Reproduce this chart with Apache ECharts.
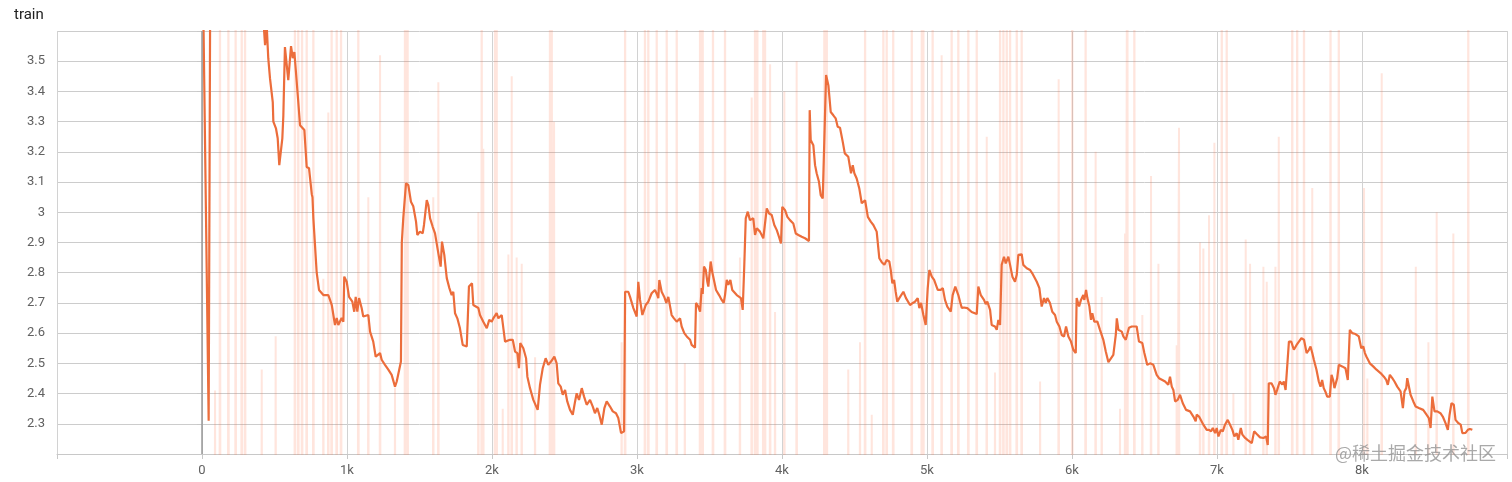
<!DOCTYPE html>
<html>
<head>
<meta charset="utf-8">
<script src="https://cdn.jsdelivr.net/npm/echarts@6/dist/echarts.min.js"></script>
<style>
html,body{margin:0;padding:0;background:#fff;}
#chart{width:1512px;height:482px;}
</style>
</head>
<body>
<div id="chart"></div>
<script>
// ---- data ----
const title = 'train';
const watermark = '@稀土掘金技术社区';
const xTickLabels = {0:'0',1000:'1k',2000:'2k',3000:'3k',4000:'4k',5000:'5k',6000:'6k',7000:'7k',8000:'8k'};
const yTickValues = [2.3,2.4,2.5,2.6,2.7,2.8,2.9,3,3.1,3.2,3.3,3.4,3.5];

// smoothed curve: [step, loss]
const smoothed = [[0,4.0],[46,2.31],[60,4.2],[150,4.6],[300,4.2],[400,3.8],[435,3.553],[446,3.62],[457,3.51],[469,3.443],[488,3.365],[492,3.30],[510,3.278],[522,3.245],[533,3.156],[554,3.245],[561,3.32],[572,3.547],[595,3.437],[614,3.55],[626,3.51],[637,3.53],[646,3.476],[664,3.365],[676,3.288],[706,3.272],[722,3.15],[738,3.146],[757,3.06],[762,3.05],[768,2.98],[791,2.80],[807,2.743],[837,2.726],[871,2.726],[883,2.71],[895,2.693],[917,2.627],[929,2.65],[940,2.627],[963,2.65],[975,2.638],[981,2.787],[998,2.77],[1014,2.72],[1037,2.704],[1050,2.671],[1060,2.72],[1071,2.671],[1083,2.716],[1101,2.683],[1112,2.655],[1147,2.66],[1159,2.605],[1181,2.572],[1198,2.522],[1228,2.534],[1239,2.512],[1262,2.495],[1285,2.479],[1308,2.462],[1331,2.423],[1343,2.44],[1372,2.506],[1378,2.90],[1388,2.98],[1407,3.096],[1423,3.09],[1441,3.035],[1457,3.02],[1476,2.969],[1485,2.925],[1503,2.936],[1522,2.93],[1531,2.958],[1550,3.04],[1561,3.024],[1573,2.98],[1591,2.952],[1607,2.93],[1630,2.864],[1646,2.82],[1655,2.903],[1671,2.859],[1688,2.782],[1706,2.749],[1722,2.726],[1733,2.737],[1745,2.666],[1761,2.649],[1779,2.616],[1798,2.561],[1826,2.556],[1841,2.754],[1862,2.765],[1871,2.693],[1906,2.683],[1917,2.66],[1929,2.666],[1940,2.638],[1964,2.616],[1981,2.644],[1998,2.638],[2009,2.649],[2032,2.666],[2044,2.649],[2067,2.66],[2090,2.572],[2124,2.578],[2143,2.578],[2159,2.539],[2175,2.534],[2186,2.484],[2195,2.567],[2216,2.55],[2235,2.517],[2244,2.456],[2262,2.418],[2285,2.379],[2315,2.346],[2331,2.429],[2350,2.484],[2370,2.517],[2388,2.495],[2407,2.506],[2430,2.522],[2446,2.50],[2457,2.434],[2474,2.423],[2488,2.396],[2504,2.412],[2519,2.374],[2538,2.346],[2557,2.33],[2573,2.374],[2584,2.401],[2600,2.379],[2619,2.418],[2635,2.39],[2653,2.363],[2676,2.379],[2695,2.357],[2710,2.335],[2726,2.352],[2740,2.33],[2757,2.297],[2775,2.352],[2791,2.374],[2814,2.357],[2833,2.341],[2855,2.335],[2871,2.319],[2890,2.269],[2911,2.275],[2918,2.737],[2924,2.743],[2940,2.737],[2952,2.72],[2975,2.683],[2998,2.655],[3009,2.77],[3021,2.71],[3037,2.66],[3060,2.693],[3078,2.704],[3101,2.732],[3124,2.743],[3140,2.726],[3147,2.716],[3154,2.776],[3170,2.737],[3188,2.72],[3202,2.70],[3216,2.72],[3228,2.726],[3239,2.66],[3255,2.649],[3274,2.638],[3285,2.633],[3297,2.649],[3308,2.622],[3326,2.60],[3343,2.589],[3366,2.578],[3377,2.561],[3400,2.552],[3407,2.70],[3423,2.688],[3435,2.671],[3446,2.749],[3453,2.73],[3462,2.82],[3474,2.81],[3485,2.77],[3492,2.754],[3508,2.837],[3520,2.80],[3533,2.798],[3545,2.743],[3566,2.726],[3584,2.71],[3598,2.70],[3607,2.726],[3619,2.776],[3630,2.76],[3644,2.776],[3657,2.743],[3688,2.726],[3717,2.716],[3729,2.677],[3740,2.826],[3750,2.98],[3764,3.002],[3779,2.974],[3791,2.969],[3802,2.98],[3814,2.925],[3826,2.947],[3848,2.936],[3871,2.914],[3895,3.013],[3911,2.996],[3929,2.991],[3947,2.958],[3964,2.941],[3979,2.919],[3993,2.897],[4002,3.018],[4021,3.007],[4037,2.985],[4055,2.974],[4078,2.963],[4095,2.93],[4113,2.925],[4136,2.919],[4159,2.914],[4186,2.905],[4191,3.338],[4198,3.239],[4216,3.222],[4228,3.156],[4239,3.129],[4255,3.101],[4267,3.057],[4281,3.046],[4292,3.048],[4304,3.454],[4320,3.42],[4336,3.332],[4354,3.321],[4370,3.311],[4384,3.283],[4400,3.28],[4419,3.233],[4433,3.195],[4457,3.184],[4476,3.129],[4488,3.156],[4499,3.129],[4515,3.112],[4533,3.079],[4550,3.03],[4573,3.04],[4592,2.985],[4612,2.969],[4630,2.958],[4653,2.936],[4671,2.848],[4688,2.835],[4706,2.826],[4722,2.842],[4740,2.837],[4750,2.809],[4761,2.765],[4773,2.776],[4784,2.737],[4795,2.704],[4809,2.716],[4837,2.737],[4855,2.716],[4867,2.72],[4883,2.693],[4902,2.70],[4917,2.704],[4936,2.716],[4947,2.683],[4959,2.70],[4975,2.66],[4991,2.627],[5005,2.749],[5016,2.809],[5033,2.787],[5049,2.776],[5074,2.743],[5095,2.743],[5109,2.749],[5124,2.71],[5140,2.688],[5164,2.671],[5177,2.726],[5195,2.754],[5216,2.726],[5228,2.704],[5240,2.683],[5255,2.685],[5278,2.683],[5308,2.67],[5343,2.663],[5354,2.754],[5371,2.726],[5393,2.71],[5405,2.696],[5416,2.704],[5435,2.677],[5446,2.627],[5469,2.622],[5481,2.611],[5492,2.644],[5504,2.627],[5515,2.826],[5531,2.853],[5543,2.831],[5561,2.853],[5573,2.826],[5589,2.787],[5607,2.77],[5619,2.793],[5630,2.859],[5653,2.861],[5664,2.826],[5688,2.815],[5711,2.809],[5726,2.798],[5738,2.80],[5757,2.77],[5775,2.749],[5791,2.688],[5807,2.716],[5819,2.70],[5830,2.716],[5848,2.70],[5864,2.671],[5883,2.66],[5895,2.638],[5913,2.622],[5929,2.594],[5945,2.589],[5959,2.622],[5975,2.589],[5993,2.572],[6009,2.545],[6026,2.534],[6032,2.716],[6049,2.688],[6062,2.71],[6078,2.726],[6085,2.71],[6097,2.743],[6106,2.716],[6120,2.688],[6131,2.644],[6140,2.666],[6154,2.638],[6175,2.638],[6193,2.611],[6216,2.578],[6233,2.539],[6251,2.504],[6262,2.50],[6285,2.528],[6302,2.594],[6309,2.649],[6320,2.611],[6343,2.605],[6354,2.589],[6371,2.578],[6393,2.618],[6412,2.622],[6446,2.622],[6462,2.572],[6485,2.567],[6499,2.534],[6519,2.495],[6538,2.50],[6561,2.495],[6584,2.462],[6600,2.451],[6623,2.445],[6642,2.44],[6664,2.429],[6676,2.456],[6688,2.423],[6699,2.412],[6711,2.374],[6729,2.379],[6745,2.396],[6764,2.368],[6787,2.346],[6814,2.341],[6837,2.324],[6853,2.308],[6860,2.33],[6876,2.324],[6888,2.33],[6906,2.297],[6929,2.28],[6945,2.28],[6959,2.275],[6971,2.286],[6987,2.269],[6998,2.286],[7010,2.258],[7026,2.28],[7040,2.275],[7055,2.297],[7074,2.313],[7090,2.297],[7106,2.28],[7120,2.258],[7136,2.269],[7147,2.247],[7164,2.286],[7175,2.264],[7194,2.253],[7210,2.247],[7221,2.253],[7240,2.236],[7256,2.275],[7274,2.266],[7297,2.255],[7320,2.253],[7339,2.258],[7350,2.23],[7357,2.434],[7376,2.434],[7393,2.418],[7403,2.396],[7415,2.412],[7433,2.44],[7450,2.43],[7461,2.44],[7473,2.412],[7496,2.572],[7512,2.572],[7530,2.545],[7549,2.561],[7565,2.572],[7582,2.583],[7600,2.578],[7618,2.534],[7634,2.545],[7645,2.556],[7657,2.534],[7668,2.512],[7686,2.479],[7702,2.44],[7714,2.423],[7725,2.445],[7736,2.418],[7747,2.407],[7760,2.39],[7778,2.39],[7790,2.462],[7801,2.445],[7810,2.418],[7829,2.451],[7840,2.495],[7863,2.49],[7886,2.484],[7902,2.445],[7916,2.611],[7933,2.60],[7955,2.597],[7978,2.589],[7995,2.55],[8009,2.556],[8020,2.534],[8031,2.522],[8043,2.522],[8054,2.50],[8077,2.49],[8100,2.479],[8128,2.468],[8151,2.456],[8167,2.445],[8178,2.429],[8192,2.462],[8209,2.451],[8224,2.44],[8243,2.423],[8266,2.407],[8282,2.352],[8293,2.407],[8305,2.418],[8312,2.451],[8323,2.451],[8335,2.396],[8354,2.374],[8370,2.357],[8392,2.352],[8422,2.346],[8445,2.33],[8461,2.319],[8473,2.286],[8485,2.39],[8500,2.341],[8519,2.341],[8541,2.335],[8557,2.324],[8576,2.302],[8592,2.28],[8604,2.33],[8617,2.368],[8633,2.363],[8645,2.313],[8665,2.302],[8681,2.297],[8692,2.269],[8714,2.27],[8730,2.28],[8744,2.283],[8761,2.28]];

// raw (unsmoothed) values: mostly below the visible range, with spikes [step, peak]
const rawBaseline = 1.6;
const rawSpikes = [[90,2.41],[124,4.5],[182,4.5],[232,4.5],[274,4.5],[297,4.5],[412,2.48],[508,2.59],[641,4.5],[664,4.5],[690,4.5],[722,4.5],[768,4.5],[837,2.78],[871,3.33],[894,4.5],[929,4.5],[959,4.5],[1078,4.5],[1147,3.05],[1228,3.52],[1331,2.42],[1400,4.5],[1418,4.5],[1595,3.05],[1630,3.43],[1906,3.0],[1929,4.5],[1940,3.21],[2021,4.5],[2032,4.5],[2074,2.35],[2113,2.86],[2136,3.45],[2170,2.85],[2205,2.83],[2297,2.52],[2400,4.5],[2412,4.5],[2428,3.30],[2894,2.57],[2918,4.5],[3055,4.5],[3078,4.5],[3136,4.5],[3205,4.5],[3274,4.5],[3330,2.5],[3435,4.5],[3453,4.5],[3524,4.5],[3607,4.5],[3710,2.85],[3791,3.38],[3814,4.5],[3830,4.5],[3871,4.5],[3883,4.5],[3918,3.49],[3952,2.67],[4016,3.40],[4101,3.50],[4292,4.5],[4309,4.5],[4457,2.48],[4538,2.57],[4573,4.5],[4619,2.33],[4699,4.5],[4722,4.5],[4767,4.5],[4895,4.5],[4964,4.5],[4975,4.5],[5039,4.5],[5101,3.52],[5170,4.5],[5216,4.5],[5285,4.5],[5343,4.5],[5412,3.25],[5469,2.47],[5504,4.5],[5527,4.5],[5550,4.5],[5573,4.5],[5619,4.5],[5653,4.5],[5780,2.44],[5908,3.44],[6002,4.5],[6094,4.5],[6163,3.20],[6205,2.72],[6331,2.35],[6366,2.93],[6382,4.5],[6430,4.5],[6485,2.66],[6545,3.12],[6596,2.83],[6722,2.56],[6738,3.28],[6883,2.90],[6906,2.88],[6945,2.99],[6982,3.23],[7033,4.5],[7067,4.5],[7113,2.40],[7198,2.91],[7228,2.83],[7320,2.82],[7343,2.77],[7403,2.82],[7426,3.25],[7519,4.5],[7553,4.5],[7600,4.5],[7657,3.08],[7783,4.5],[7840,4.5],[8014,3.08],[8037,2.45],[8136,3.46],[8371,2.82],[8458,2.57],[8515,3.0],[8630,2.93],[8733,4.5]];

// ---- build raw line from spikes ----
const rawData = [];
rawSpikes.forEach(function (s) {
  rawData.push([s[0] - 3, rawBaseline]);
  rawData.push([s[0], s[1]]);
  rawData.push([s[0] + 3, rawBaseline]);
});

const chart = echarts.init(document.getElementById('chart'), null, {renderer: 'canvas'});
const axisGray = '#c8c8c8';
const labelColor = '#616161';
const font = 'Roboto, "Noto Sans", sans-serif';

chart.setOption({
  animation: false,
  backgroundColor: '#ffffff',
  title: {
    text: title, left: 9, top: 3,
    textStyle: {fontFamily: font, fontSize: 15, fontWeight: 'normal', color: '#212121'}
  },
  grid: {left: 57, right: 5, top: 31, bottom: 28, containLabel: false},
  xAxis: {
    type: 'value', min: -1000, max: 9000, interval: 1000,
    axisLine: {show: true, onZero: false, lineStyle: {color: axisGray, width: 1}},
    axisTick: {show: true, length: 5, lineStyle: {color: axisGray}},
    axisLabel: {
      margin: 10, color: labelColor, fontFamily: font, fontSize: 13,
      formatter: function (v) { return xTickLabels[v] !== undefined ? xTickLabels[v] : ''; }
    },
    splitLine: {show: true, lineStyle: {color: '#d2d2d2', width: 1}}
  },
  yAxis: {
    type: 'value', min: 2.2, max: 3.6, interval: 0.1,
    axisLine: {show: true, lineStyle: {color: axisGray, width: 1}},
    axisTick: {show: true, length: 5, lineStyle: {color: axisGray}},
    axisLabel: {
      margin: 12, color: labelColor, fontFamily: font, fontSize: 13,
      formatter: function (v) {
        const r = Math.round(v * 10) / 10;
        return yTickValues.indexOf(r) >= 0 ? String(r) : '';
      }
    },
    splitLine: {show: true, lineStyle: {color: '#cccccc', width: 1}}
  },
  series: [
    {
      name: 'raw', type: 'line', data: rawData, showSymbol: false, clip: true,
      lineStyle: {color: '#ff7043', opacity: 0.18, width: 2},
      silent: true, z: 2
    },
    {
      name: 'smoothed', type: 'line', data: smoothed, showSymbol: false, clip: true,
      lineStyle: {color: '#ec6d3b', width: 2.2},
      silent: true, z: 3,
      markLine: {
        silent: true, symbol: 'none', label: {show: false},
        lineStyle: {color: '#9a9a9a', width: 1.5, type: 'solid'},
        data: [{xAxis: 0}]
      }
    }
  ],
  graphic: [{
    type: 'text', right: 16, top: 444, z: 100,
    style: {text: watermark, fill: 'rgba(140,140,140,0.75)', font: '18px "Noto Sans CJK SC", sans-serif'}
  }]
});
</script>
</body>
</html>
